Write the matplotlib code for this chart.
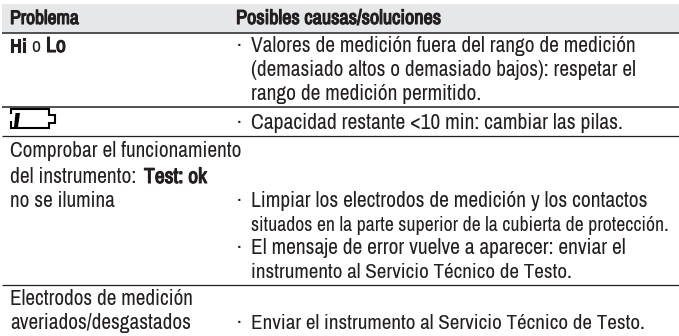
import matplotlib
matplotlib.use("Agg")
import matplotlib.pyplot as plt
import matplotlib.patheffects as pe
from matplotlib.patches import Rectangle

FONT = ["Archivo Narrow", "Liberation Sans", "DejaVu Sans"]
SIZE = 15.0
INK = "#231f20"

header_labels = ["Problema", "Posibles causas/soluciones"]
left_plain = ["Comprobar el funcionamiento", "del instrumento:", "no se ilumina",
              "Electrodos de medición", "averiados/desgastados"]
left_y = [157, 183, 207, 305, 329]
left_end = [242, 137, 115, 193, 190]
right_lines = ["Valores de medición fuera del rango de medición",
               "(demasiado altos o demasiado bajos): respetar el",
               "rango de medición permitido.",
               "Capacidad restante <10 min: cambiar las pilas.",
               "Limpiar los electrodos de medición y los contactos",
               "situados en la parte superior de la cubierta de protección.",
               "El mensaje de error vuelve a aparecer: enviar el",
               "instrumento al Servicio Técnico de Testo.",
               "Enviar el instrumento al Servicio Técnico de Testo."]
right_y = [52, 76, 100, 129, 207, 231, 254, 278, 329]
right_end = [636, 636, 482, 625, 648, 669, 626, 572, 645]
bullet_y = [52, 129, 207, 254, 329]
rule_y = [32.5, 106.5, 135.5, 284.5]
rule_w = [1.1, 1.1, 0.9, 0.9]

fig = plt.figure(figsize=(6.79, 3.36), dpi=100)
ax = fig.add_axes([0, 0, 1, 1])
ax.set_xlim(0, 679)
ax.set_ylim(336, 0)
ax.axis("off")
renderer = fig.canvas.get_renderer()

def put(x, y, s, bold=False, end=None):
    t = ax.text(x, y, s, family=FONT, fontsize=SIZE, color=INK, va="baseline", ha="left")
    if end is not None:
        w = t.get_window_extent(renderer).width
        t.set_fontsize(SIZE * (end - x) / w)
    if bold:
        t.set_path_effects([pe.withStroke(linewidth=0.8, foreground=INK)])

ax.add_patch(Rectangle((2, 4), 677, 28, fc="#e6e7e8", ec="none"))
for y, w in zip(rule_y, rule_w):
    ax.plot([2, 679], [y, y], color=INK, lw=w, solid_capstyle="butt")

put(10, 24, header_labels[0], True, 79)
put(236, 24, header_labels[1], True, 441)

put(10, 52, "Hi", True, 26)
put(31, 52, "o", False, 40)
put(46, 52, "Lo", True, 66)

for s, y, e in zip(left_plain, left_y, left_end):
    put(10, y, s, False, e)
put(144, 183, "Test: ok", True, 207)

for s, y, e in zip(right_lines, right_y, right_end):
    put(251, y, s, False, e)
for y in bullet_y:
    put(237, y, "·")

# low-battery icon
ax.plot([11, 11, 49, 49, 55, 55, 49, 49, 11, 11],
        [113, 108.5, 108.5, 115, 115, 123, 123, 128, 128, 122],
        color="black", lw=1.5, solid_joinstyle="miter")
ax.fill([15.5, 20, 18, 14], [113, 113, 127, 127], color="black", lw=0)

fig.savefig("out.png", dpi=100)
